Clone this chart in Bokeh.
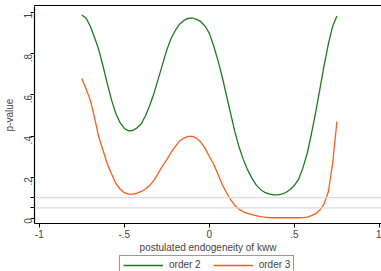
import math
from bokeh.plotting import figure
from bokeh.layouts import column
from bokeh.models import (Range1d, Span, Legend, LegendItem, FixedTicker, Div)
from bokeh.embed import file_html
from bokeh.resources import INLINE

# ---- data ----
endog = [-0.75, -0.725, -0.70, -0.675, -0.65, -0.625, -0.60, -0.575, -0.55, -0.525,
         -0.50, -0.475, -0.45, -0.425, -0.40, -0.375, -0.35, -0.325, -0.30, -0.275,
         -0.25, -0.225, -0.20, -0.175, -0.15, -0.125, -0.10, -0.075, -0.05, -0.025,
         0.0, 0.025, 0.05, 0.075, 0.10, 0.125, 0.15, 0.175, 0.20, 0.225,
         0.25, 0.275, 0.30, 0.325, 0.35, 0.375, 0.40, 0.425, 0.45, 0.475,
         0.50, 0.525, 0.55, 0.575, 0.60, 0.625, 0.65, 0.675, 0.70, 0.725, 0.75]

p_order2 = [0.99, 0.975, 0.935, 0.88, 0.82, 0.74, 0.655, 0.575, 0.51, 0.465,
            0.437, 0.425, 0.427, 0.44, 0.46, 0.50, 0.55, 0.61, 0.68, 0.75,
            0.82, 0.875, 0.915, 0.945, 0.963, 0.973, 0.975, 0.968, 0.957, 0.935,
            0.90, 0.84, 0.77, 0.69, 0.60, 0.51, 0.42, 0.345, 0.285, 0.235,
            0.195, 0.162, 0.140, 0.126, 0.118, 0.114, 0.113, 0.117, 0.125, 0.14,
            0.16, 0.19, 0.245, 0.315, 0.41, 0.515, 0.63, 0.745, 0.85, 0.935, 0.985]

p_order3 = [0.68, 0.63, 0.575, 0.49, 0.395, 0.33, 0.265, 0.215, 0.17, 0.142,
            0.124, 0.117, 0.117, 0.122, 0.13, 0.142, 0.16, 0.185, 0.22, 0.255,
            0.285, 0.32, 0.35, 0.375, 0.39, 0.398, 0.398, 0.39, 0.37, 0.34,
            0.30, 0.264, 0.215, 0.165, 0.125, 0.09, 0.062, 0.043, 0.031, 0.023,
            0.017, 0.012, 0.008, 0.005, 0.003, 0.002, 0.002, 0.002, 0.002, 0.002,
            0.002, 0.002, 0.003, 0.005, 0.012, 0.022, 0.04, 0.07, 0.13, 0.27, 0.47]

ref_levels = [0.1, 0.05]

x_ticks = [-1, -0.5, 0, 0.5, 1]
x_labels = ["-1", "-.5", "0", ".5", "1"]
y_ticks = [0, 0.05, 0.1, 0.2, 0.4, 0.6, 0.8, 1]
y_labels = ["0", "", "", ".2", ".4", ".6", ".8", "1"]

series_names = ["order 2", "order 3"]
GREEN = "#1f7a1f"
ORANGE = "#ff5a1a"
FONT = "Liberation Sans"

X_MIN, X_MAX = -1.028, 1.012   # plot-region extent
Y_BOTTOM, Y_TOP = -0.026, 1.031

# top frame line of the plot region (an HTML rule above the plot)
top_rule = Div(text="", width=347, height=6, margin=(0, 0, 0, 34),
               styles={"border-bottom": "1px solid #000000",
                       "box-sizing": "border-box"})

p = figure(width=381, height=249, output_backend="svg", toolbar_location=None,
           x_range=Range1d(X_MIN, X_MAX), y_range=Range1d(Y_BOTTOM, Y_TOP),
           min_border_left=34, min_border_right=0, min_border_top=0,
           min_border_bottom=31)
p.title.visible = False
p.background_fill_color = "white"
p.border_fill_color = "white"
p.outline_line_color = None
p.xgrid.visible = False
p.ygrid.visible = False

for lv in ref_levels:
    p.add_layout(Span(location=lv, dimension="width", line_color="#dcdcdc",
                      line_width=1.3))

r2 = p.line(endog, p_order2, line_color=GREEN, line_width=1.3)
r3 = p.line(endog, p_order3, line_color=ORANGE, line_width=1.3)

# x axis
xa = p.xaxis[0]
xa.ticker = FixedTicker(ticks=x_ticks)
xa.major_label_overrides = {t: l for t, l in zip(x_ticks, x_labels)}
xa.axis_label = "postulated endogeneity of kww"
xa.axis_label_text_font = FONT
xa.axis_label_text_font_style = "normal"
xa.axis_label_text_font_size = "10px"
xa.axis_label_standoff = 1
xa.major_label_text_font = FONT
xa.major_label_text_font_size = "10px"
xa.major_label_standoff = 2
xa.major_tick_out = 4
xa.major_tick_in = 0
xa.minor_tick_out = 0
xa.minor_tick_in = 0
xa.axis_line_color = "black"
xa.axis_line_width = 1.2

# y axis
ya = p.yaxis[0]
ya.ticker = FixedTicker(ticks=y_ticks)
ya.major_label_overrides = {t: l for t, l in zip(y_ticks, y_labels)}
ya.major_label_orientation = math.pi / 2
ya.axis_label = "p-value"
ya.axis_label_text_font = FONT
ya.axis_label_text_font_style = "normal"
ya.axis_label_text_font_size = "10px"
ya.axis_label_standoff = 3
ya.major_label_text_font = FONT
ya.major_label_text_font_size = "10px"
ya.major_label_standoff = 2
ya.major_tick_out = 4
ya.major_tick_in = 0
ya.minor_tick_out = 0
ya.minor_tick_in = 0
ya.axis_line_color = "black"
ya.axis_line_width = 1.2

# legend strip underneath (cut at the bottom edge, as in the original)
lg = figure(width=381, height=16, output_backend="svg", toolbar_location=None,
            x_range=Range1d(0, 1), y_range=Range1d(0, 1),
            x_axis_type=None, y_axis_type=None,
            min_border_left=0, min_border_right=0, min_border_top=0,
            min_border_bottom=0)
lg.title.visible = False
lg.outline_line_color = None
lg.xgrid.visible = False
lg.ygrid.visible = False
g2 = lg.line([5, 6], [5, 6], line_color=GREEN, line_width=1.3)
g3 = lg.line([5, 6], [5, 6], line_color=ORANGE, line_width=1.3)
legend = Legend(items=[LegendItem(label=series_names[0], renderers=[g2]),
                       LegendItem(label=series_names[1], renderers=[g3])],
                orientation="horizontal", location=(85, -3),
                label_text_font=FONT, label_text_font_size="10px",
                label_height=10, glyph_width=40, glyph_height=10,
                label_standoff=6, spacing=12, padding=3, margin=0,
                border_line_color="#333333", border_line_width=1,
                background_fill_color="white", background_fill_alpha=1.0)
lg.add_layout(legend, "center")

layout = column(top_rule, p, lg, spacing=0)
open("out.html", "w").write(file_html(layout, INLINE))
